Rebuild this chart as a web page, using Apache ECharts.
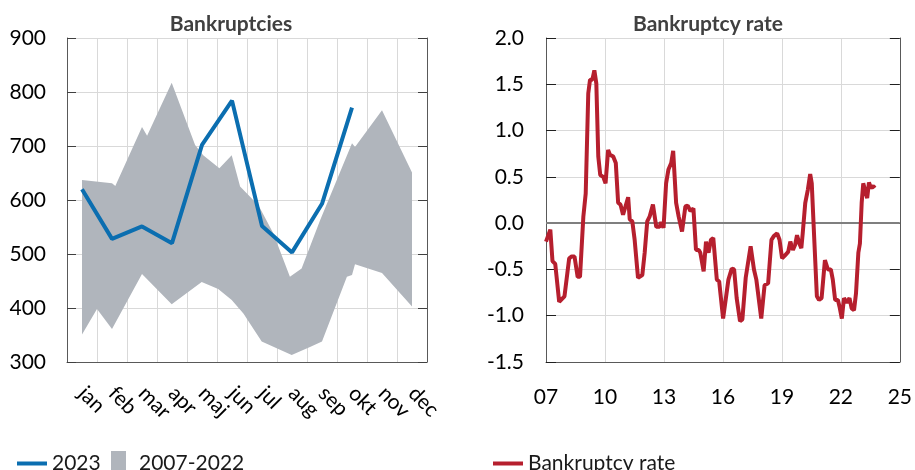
<!DOCTYPE html>
<html>
<head>
<meta charset="utf-8">
<script src="https://cdn.jsdelivr.net/npm/echarts@6/dist/echarts.min.js"></script>
<style>html,body{margin:0;padding:0;background:#fff}#c{width:915px;height:470px}</style>
</head>
<body>
<div id="c"></div>
<script>
// ---- data ----
const months = ['jan','feb','mar','apr','maj','jun','jul','aug','sep','okt','nov','dec'];
const bank2023 = [620, 528, 551, 520, 702, 784, 552, 503, 593, 771];
// band 2007-2022 (x in month units, month centre = i + 0.5)
const bandUpperX = [0.5, 1.5, 1.61, 2.5, 2.67, 3.49, 4.27, 4.54, 5.08, 5.49, 5.77, 6.16, 6.43, 6.88, 7.43, 7.82, 8.44, 9.5, 9.6, 10.5, 11.5];
const bandUpperY = [637, 631, 626, 735, 719, 817, 702, 683, 659, 683, 625, 603, 585, 538, 458, 473, 563, 705, 698, 766, 651];
const bandLowerX = [0.5, 1.0, 1.5, 2.5, 3.49, 4.49, 5.04, 5.49, 5.88, 6.49, 7.49, 8.1, 8.5, 9.33, 9.5, 9.6, 10.5, 11.5];
const bandLowerY = [351, 398, 361, 463, 407, 448, 435, 415, 390, 338, 313, 328, 338, 458, 461, 481, 465, 403];

const rateYears = [2007.00,2007.22,2007.33,2007.47,2007.67,2007.77,2007.94,2008.18,2008.31,2008.45,2008.61,2008.73,2008.90,2009.02,2009.15,2009.24,2009.36,2009.46,2009.56,2009.66,2009.76,2009.91,2010.03,2010.16,2010.25,2010.42,2010.55,2010.67,2010.79,2010.92,2011.01,2011.18,2011.26,2011.39,2011.51,2011.68,2011.90,2012.02,2012.15,2012.27,2012.44,2012.61,2012.78,2012.86,2012.98,2013.11,2013.23,2013.37,2013.47,2013.62,2013.75,2013.92,2014.09,2014.21,2014.35,2014.50,2014.63,2014.77,2014.85,2015.02,2015.14,2015.27,2015.39,2015.51,2015.69,2015.81,2016.01,2016.10,2016.28,2016.45,2016.57,2016.70,2016.87,2016.99,2017.16,2017.41,2017.58,2017.70,2017.80,2017.95,2018.12,2018.30,2018.47,2018.59,2018.76,2018.88,2019.01,2019.15,2019.32,2019.43,2019.56,2019.68,2019.77,2019.89,2019.99,2020.06,2020.19,2020.32,2020.44,2020.52,2020.64,2020.78,2020.89,2021.02,2021.19,2021.34,2021.49,2021.59,2021.71,2021.85,2021.93,2022.05,2022.16,2022.30,2022.44,2022.55,2022.67,2022.77,2022.89,2022.97,2023.06,2023.14,2023.22,2023.34,2023.43,2023.53,2023.65,2023.73];
const rateValues = [-0.20,-0.07,-0.41,-0.44,-0.85,-0.85,-0.79,-0.38,-0.36,-0.36,-0.58,-0.58,0.07,0.32,1.40,1.55,1.55,1.65,1.51,0.72,0.52,0.50,0.43,0.79,0.74,0.72,0.65,0.22,0.20,0.09,0.07,0.28,0.04,0.02,-0.18,-0.59,-0.56,-0.32,0.02,0.07,0.20,-0.04,-0.04,0.01,-0.05,0.43,0.58,0.65,0.78,0.22,0.07,-0.09,0.18,0.19,0.13,0.16,-0.29,-0.29,-0.32,-0.52,-0.20,-0.32,-0.18,-0.16,-0.61,-0.63,-1.03,-1.03,-0.61,-0.49,-0.50,-0.81,-1.06,-1.04,-0.59,-0.25,-0.50,-0.61,-0.63,-1.03,-0.67,-0.65,-0.18,-0.14,-0.11,-0.18,-0.38,-0.35,-0.31,-0.20,-0.29,-0.23,-0.13,-0.22,-0.27,-0.11,0.22,0.36,0.53,0.43,-0.14,-0.79,-0.83,-0.81,-0.40,-0.50,-0.50,-0.61,-0.83,-0.83,-0.90,-1.03,-0.81,-0.86,-0.81,-0.92,-0.94,-0.76,-0.32,-0.22,0.22,0.43,0.45,0.27,0.44,0.38,0.40,0.38];

const titles = ['Bankruptcies', 'Bankruptcy rate'];
const seriesNames = ['2023', '2007-2022', 'Bankruptcy rate'];

// ---- build ----
const BLUE = '#0b6eb0', GRAY = '#b0b5bc', RED = '#b61f2e';
const FONT = 'Lato';
const bandPoly = [];
for (let i = 0; i < bandUpperX.length; i++) bandPoly.push([bandUpperX[i], bandUpperY[i]]);
for (let i = bandLowerX.length - 1; i >= 0; i--) bandPoly.push([bandLowerX[i], bandLowerY[i]]);
const rateData = rateYears.map((y, i) => [y, rateValues[i]]);

const axisLineStyle = {show: true, lineStyle: {color: '#595959', width: 1}};
const splitStyle = {show: true, lineStyle: {color: '#d9d9d9', width: 1}};
const labelStyle = {fontFamily: FONT, fontSize: 21, color: '#000'};
const legendText = {fontFamily: FONT, fontSize: 21, color: '#1a1a1a'};

const chart = echarts.init(document.getElementById('c'), null, {renderer: 'canvas'});
chart.setOption({
  animation: false,
  textStyle: {fontFamily: FONT},
  title: [
    {text: titles[0], left: 226, top: 9, textAlign: 'center', textStyle: {fontFamily: FONT, fontWeight: 'bold', fontSize: 21, color: '#404040'}},
    {text: titles[1], left: 703, top: 9, textAlign: 'center', textStyle: {fontFamily: FONT, fontWeight: 'bold', fontSize: 21, color: '#404040'}}
  ],
  legend: [
    {left: 12, top: 448, icon: 'rect', itemWidth: 30, itemHeight: 4, data: [seriesNames[0]], textStyle: legendText},
    {left: 106, top: 446, icon: 'rect', itemWidth: 15, itemHeight: 24, data: [seriesNames[1]], textStyle: Object.assign({padding: [0, 0, 0, 8]}, legendText)},
    {left: 488, top: 448, icon: 'rect', itemWidth: 30, itemHeight: 4, data: [seriesNames[2]], textStyle: legendText}
  ],
  grid: [
    {left: 67, top: 38, width: 360, height: 324},
    {left: 546, top: 38, width: 357, height: 324}
  ],
  xAxis: [
    {type: 'category', gridIndex: 0, data: months, boundaryGap: true,
     axisLine: axisLineStyle, axisTick: {show: false},
     splitLine: {show: true, interval: 0, lineStyle: {color: '#d9d9d9'}},
     axisLabel: Object.assign({rotate: -45, margin: 28, interval: 0}, labelStyle)},
    {type: 'value', gridIndex: 0, min: 0, max: 12, show: false},
    {type: 'value', gridIndex: 1, min: 2007, max: 2025, interval: 3,
     axisLine: Object.assign({onZero: false}, axisLineStyle), axisTick: {show: false},
     splitLine: splitStyle,
     axisLabel: Object.assign({margin: 25, formatter: v => String(v).slice(2)}, labelStyle)}
  ],
  yAxis: [
    {type: 'value', gridIndex: 0, min: 300, max: 900, interval: 100, position: 'left',
     axisLine: axisLineStyle, axisTick: {show: true, inside: true, length: 9, lineStyle: {color: '#404040'}},
     splitLine: splitStyle, axisLabel: Object.assign({margin: 21}, labelStyle)},
    {type: 'value', gridIndex: 0, min: 300, max: 900, interval: 100, position: 'right',
     axisLine: axisLineStyle, axisTick: {show: true, inside: true, length: 9, lineStyle: {color: '#404040'}},
     splitLine: {show: false}, axisLabel: {show: false}},
    {type: 'value', gridIndex: 1, min: -1.5, max: 2.0, interval: 0.5, position: 'left',
     axisLine: axisLineStyle, axisTick: {show: true, inside: true, length: 10, lineStyle: {color: '#202020'}},
     splitLine: splitStyle, axisLabel: Object.assign({margin: 22, formatter: v => v.toFixed(1)}, labelStyle)},
    {type: 'value', gridIndex: 1, min: -1.5, max: 2.0, interval: 0.5, position: 'right',
     axisLine: axisLineStyle, axisTick: {show: true, inside: true, length: 10, lineStyle: {color: '#202020'}},
     splitLine: {show: false}, axisLabel: {show: false}}
  ],
  series: [
    {name: seriesNames[1], type: 'custom', xAxisIndex: 1, yAxisIndex: 0,
     itemStyle: {color: GRAY}, encode: {x: 0, y: 1}, data: bandPoly, clip: false,
     renderItem: function (params, api) {
       if (params.dataIndex !== 0) return null;
       const pts = bandPoly.map(p => api.coord(p));
       return {type: 'polygon', shape: {points: pts}, style: {fill: GRAY}};
     }, z: 1},
    {name: seriesNames[0], type: 'line', xAxisIndex: 0, yAxisIndex: 0, data: bank2023,
     showSymbol: false, symbol: 'none', lineStyle: {color: BLUE, width: 4}, itemStyle: {color: BLUE}, z: 3},
    {name: seriesNames[2], type: 'line', xAxisIndex: 2, yAxisIndex: 2, data: rateData,
     showSymbol: false, symbol: 'none', lineStyle: {color: RED, width: 4}, itemStyle: {color: RED}, z: 3,
     markLine: {silent: true, symbol: 'none', label: {show: false}, lineStyle: {color: '#7f7f7f', width: 2, type: 'solid'},
       data: [{yAxis: 0}], z: 2}}
  ]
});
</script>
</body>
</html>
